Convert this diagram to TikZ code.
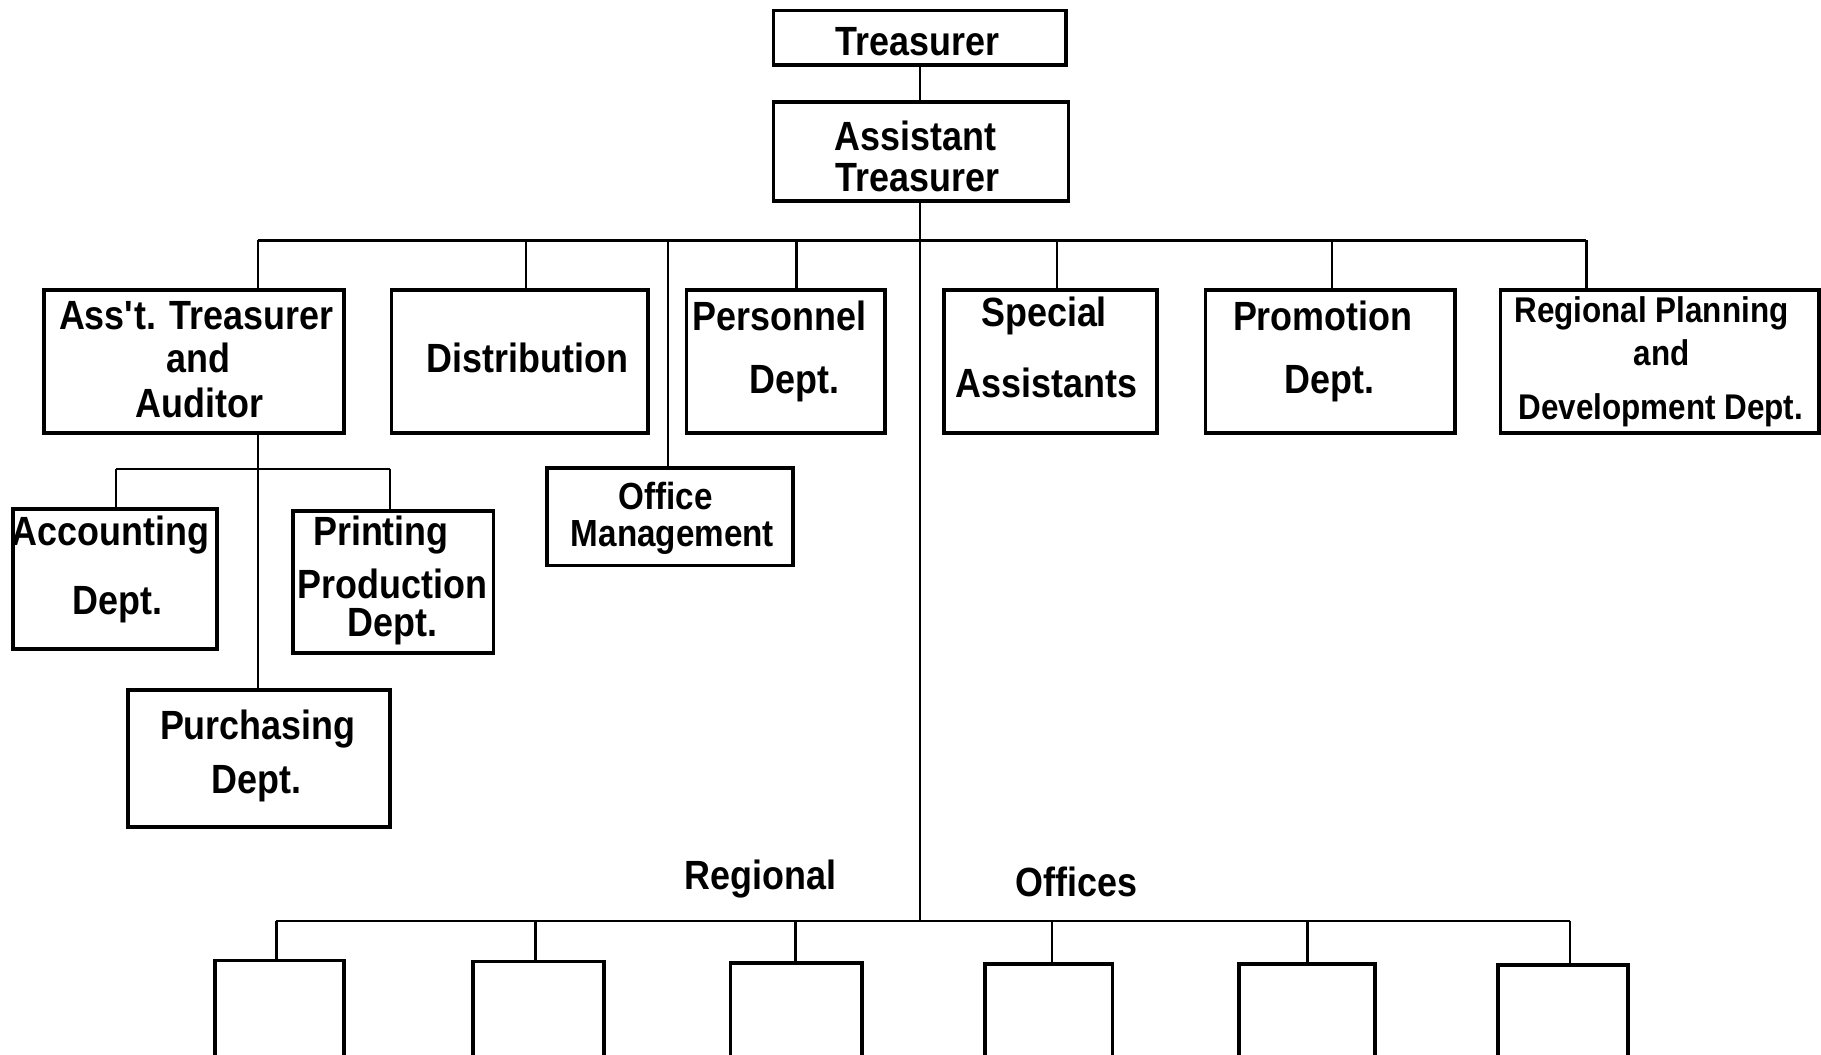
\documentclass[tikz,border=0pt]{standalone}
\usepackage{fontspec}
\setmainfont{Liberation Sans}[FakeStretch=0.88]
\begin{document}
\begin{tikzpicture}[x=0.02cm,y=-0.02cm,
  box/.style={draw,line width=1.8pt,inner sep=0pt,outer sep=0pt},
  lbl/.style={inner sep=0pt,font=\fontsize{20}{22}\selectfont\bfseries},
  sml/.style={inner sep=0pt,font=\fontsize{17.5}{20}\selectfont\bfseries},
  mid/.style={inner sep=0pt,font=\fontsize{18.5}{20}\selectfont\bfseries},
  conn/.style={line width=1.2pt}]
\newcommand\obox[5]{\node[box,minimum width={(#3-#2)*0.02cm},minimum height={(#5-#4)*0.02cm}] (#1) at ({(#2+#3)/2},{(#4+#5)/2}) {};}
\useasboundingbox (0,0) rectangle (1568,908);
\clip (0,0) rectangle (1568,908);
% boxes
\obox{tre}{666}{918}{9}{56}
\obox{ast}{666}{920}{88}{173}
\obox{att}{38}{296}{250}{373}
\obox{dis}{337}{558}{250}{373}
\obox{per}{591}{762}{250}{373}
\obox{spa}{813}{996}{250}{373}
\obox{pro}{1038}{1253}{250}{373}
\obox{rpd}{1292}{1566}{250}{373}
\obox{off}{471}{683}{403}{487}
\obox{acc}{11}{187}{438}{559}
\obox{prt}{252}{425}{440}{562}
\obox{pur}{110}{336}{594}{712}
\obox{r1}{185}{296}{827}{930}
\obox{r2}{407}{520}{828}{930}
\obox{r3}{629}{742}{829}{930}
\obox{r4}{848}{958}{830}{930}
\obox{r5}{1067}{1184}{830}{930}
\obox{r6}{1290}{1402}{831}{930}
% texts
\node[lbl] (t1) at (790,36) {Treasurer};
\node[lbl] (t2) at (788,117) {Assistant};
\node[lbl] (t3) at (790,153) {Treasurer};
\node[lbl] (t4) at (169,272) {Ass\textquotesingle t. Treasurer};
\node[lbl] (t5) at (171,308) {and};
\node[lbl] (t6) at (172,347) {Auditor};
\node[lbl] (t7) at (454,308) {Distribution};
\node[lbl] (t8) at (671,272) {Personnel};
\node[lbl] (t9) at (684,330) {Dept.};
\node[lbl] (t10) at (899,272) {Special};
\node[lbl] (t11) at (901,330) {Assistants};
\node[lbl] (t12) at (1139,272) {Promotion};
\node[lbl] (t13) at (1145,330) {Dept.};
\node[sml] (t14) at (1422,270) {Regional Planning};
\node[sml] (t15) at (1431,304) {and};
\node[sml] (t16) at (1430,353) {Development Dept.};
\node[mid] (t17) at (573,427) {Office};
\node[mid] (t18) at (579,463) {Management};
\node[lbl] (t19) at (95,461) {Accounting};
\node[lbl] (t20) at (101,521) {Dept.};
\node[lbl] (t21) at (328,461) {Printing};
\node[lbl] (t22) at (338,503) {Production};
\node[lbl] (t23) at (338,540) {Dept.};
\node[lbl] (t24) at (222,628) {Purchasing};
\node[lbl] (t25) at (221,675) {Dept.};
\node[lbl] (t26) at (655,757) {Regional};
\node[lbl] (t27) at (927,759) {Offices};
% bus coordinates
\coordinate (b1) at (222,207);
\coordinate (b2) at (453,207);
\coordinate (b3) at (575,207);
\coordinate (b4) at (686,207);
\coordinate (b5) at (792,207);
\coordinate (b6) at (910,207);
\coordinate (b7) at (1147,207);
\coordinate (b8) at (1366,207);
\coordinate (s1) at (100,404);
\coordinate (s2) at (336,404);
\coordinate (sm) at (222,404);
\coordinate (g1) at (238,793);
\coordinate (g2) at (461,793);
\coordinate (g3) at (685,793);
\coordinate (g4) at (906,793);
\coordinate (g5) at (1126,793);
\coordinate (g6) at (1352,793);
\coordinate (gm) at (792,793);
% connectors
\draw[conn] (tre.south -| b5) -- (ast.north -| b5);
\draw[conn] (ast.south -| b5) -- (gm);
\draw[conn] (b1) -- (b8);
\draw[conn] (b1) -- (b1 |- att.north);
\draw[conn] (b2) -- (b2 |- dis.north);
\draw[conn] (b3) -- (b3 |- off.north);
\draw[conn] (b4) -- (b4 |- per.north);
\draw[conn] (b6) -- (b6 |- spa.north);
\draw[conn] (b7) -- (b7 |- pro.north);
\draw[conn] (b8) -- (b8 |- rpd.north);
\draw[conn] (sm |- att.south) -- (sm |- pur.north);
\draw[conn] (s1) -- (s2);
\draw[conn] (s1) -- (s1 |- acc.north);
\draw[conn] (s2) -- (s2 |- prt.north);
\draw[conn] (g1) -- (g6);
\draw[conn] (g1) -- (g1 |- r1.north);
\draw[conn] (g2) -- (g2 |- r2.north);
\draw[conn] (g3) -- (g3 |- r3.north);
\draw[conn] (g4) -- (g4 |- r4.north);
\draw[conn] (g5) -- (g5 |- r5.north);
\draw[conn] (g6) -- (g6 |- r6.north);
\end{tikzpicture}
\end{document}
